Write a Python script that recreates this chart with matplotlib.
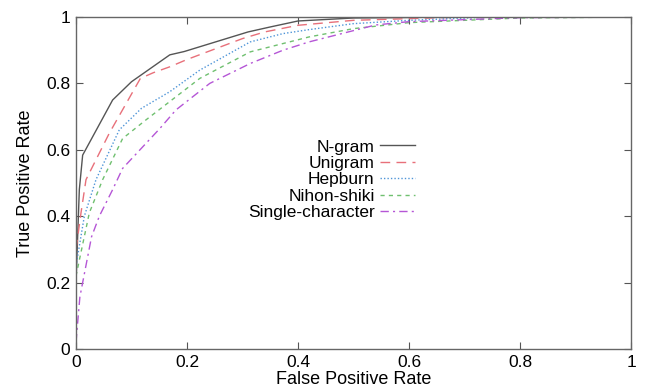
import matplotlib
matplotlib.use("Agg")
import matplotlib.pyplot as plt

plt.rcParams['font.family'] = ['Liberation Sans', 'DejaVu Sans']

ngram_x = [0, 0.006, 0.012, 0.066, 0.1, 0.169, 0.195, 0.31, 0.35, 0.4, 0.5, 0.7, 1]
ngram_y = [0.2, 0.48, 0.584, 0.75, 0.805, 0.886, 0.896, 0.955, 0.97, 0.988, 0.997, 1, 1]

unigram_x = [0, 0.009, 0.018, 0.06, 0.116, 0.139, 0.169, 0.2, 0.3, 0.34, 0.4, 0.5, 0.7, 1]
unigram_y = [0.3, 0.41, 0.51, 0.65, 0.815, 0.832, 0.85, 0.872, 0.935, 0.955, 0.975, 0.99, 1, 1]

hepburn_x = [0, 0.015, 0.036, 0.078, 0.118, 0.169, 0.223, 0.314, 0.373, 0.42, 0.5, 0.6, 0.75, 1]
hepburn_y = [0.25, 0.40, 0.51, 0.66, 0.725, 0.775, 0.84, 0.925, 0.95, 0.962, 0.98, 0.99, 1, 1]

nihon_x = [0, 0.024, 0.048, 0.084, 0.126, 0.223, 0.314, 0.42, 0.5, 0.6, 0.8, 1]
nihon_y = [0.22, 0.41, 0.51, 0.634, 0.69, 0.815, 0.895, 0.94, 0.965, 0.983, 0.997, 1]

single_x = [0, 0.002, 0.007, 0.028, 0.042, 0.066, 0.084, 0.151, 0.18, 0.241, 0.314, 0.373, 0.42, 0.54, 0.6, 0.8, 1]
single_y = [0.02, 0.06, 0.157, 0.338, 0.40, 0.48, 0.544, 0.664, 0.72, 0.80, 0.86, 0.9, 0.925, 0.976, 0.986, 0.998, 1]

labels = ["N-gram", "Unigram", "Hepburn", "Nihon-shiki", "Single-character"]
ticks = [0, 0.2, 0.4, 0.6, 0.8, 1]
tick_labels = ["0", "0.2", "0.4", "0.6", "0.8", "1"]

fig = plt.figure(figsize=(6.45, 3.88), dpi=100)
ax = fig.add_axes([76/645, 39/388, 555/645, 332/388])

ax.plot(ngram_x, ngram_y, color="#555555", lw=1.0, ls="-", label=labels[0])
ax.plot(unigram_x, unigram_y, color="#e8707a", lw=1.0, ls=(0, (7, 4.5)), label=labels[1])
ax.plot(hepburn_x, hepburn_y, color="#4f95d8", lw=1.0, ls=(0, (1, 1.5)), label=labels[2])
ax.plot(nihon_x, nihon_y, color="#70c070", lw=1.0, ls=(0, (3, 3)), label=labels[3])
ax.plot(single_x, single_y, color="#b556d6", lw=1.0, ls=(0, (6, 3, 1.5, 3)), label=labels[4])

ax.set_xlim(0, 1)
ax.set_ylim(0, 1)
ax.set_xticks(ticks)
ax.set_xticklabels(tick_labels)
ax.set_yticks(ticks)
ax.set_yticklabels(tick_labels)
ax.tick_params(direction="in", top=True, right=True, length=5, width=0.8,
               color="#555555", labelsize=12.5, pad=4)
for s in ax.spines.values():
    s.set_color("#666666")
    s.set_linewidth(1.0)

ax.set_xlabel("False Positive Rate", fontsize=13, labelpad=1)
ax.set_ylabel("True Positive Rate", fontsize=13, labelpad=9)

leg = ax.legend(loc="upper right", bbox_to_anchor=(0.632, 0.668), frameon=False,
                markerfirst=False, fontsize=12.5, handlelength=2.0,
                labelspacing=0.07, handletextpad=0.3, borderpad=0.2)
for t in leg.get_texts():
    t.set_ha("right")

fig.savefig("out.png", dpi=100)
